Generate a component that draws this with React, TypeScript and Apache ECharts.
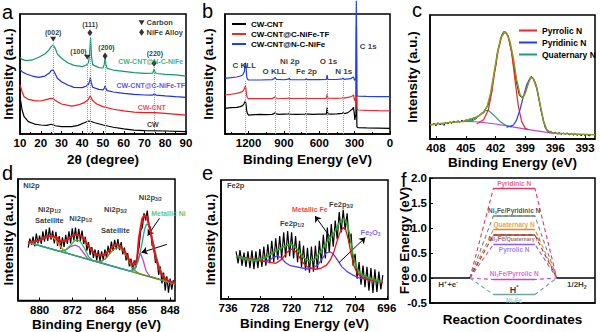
import React, { useEffect, useRef } from "react";
import * as echarts from "echarts";

const FONT = '"Liberation Sans", Arial, Helvetica, sans-serif';

// ---------------- panel a : XRD ----------------
const aCW = [[10,31.1],[11,20],[12,14.4],[14,10.3],[17,8.3],[20,7.5],[23,7.2],[25,8.1],[27,6.9],[30,6.1],[35,6.1],[38,7.2],[41,9.4],[43,10.8],[44,10.6],[46,9.4],[50,7.5],[55,5.6],[60,4.2],[65,3.3],[70,2.8],[80,2.5],[90,1.9]];
const aCNT = [[10,40.8],[11,35.3],[12,31.1],[14,28.9],[17,27.8],[20,27.5],[23,28.9],[25,29.7],[26,29.4],[28,26.9],[30,25],[35,23.3],[38,24.2],[41,26.1],[43,28.9],[43.8,31.7],[45,27.8],[47,25],[50,22.8],[55,20.6],[60,19.2],[65,18.3],[70,17.8],[75,17.8],[80,17.2],[90,15.8]];
const aTF = [[10,53.9],[11,51.9],[13,50],[16,48.3],[19,47.2],[22,48.3],[24,50.6],[25,52.8],[26,53.3],[27,50],[28,46.4],[30,43.6],[33,40.8],[36,38.9],[40,38.6],[42,40],[43,41.5],[43.6,44],[43.9,46.9],[44.3,43],[45,39],[48,37.2],[50,36.7],[50.6,38],[51,40],[51.4,38],[52,36.1],[55,35],[60,33.9],[65,33.1],[70,32.5],[74,32.4],[74.8,33.6],[75.5,32.4],[80,31.7],[85,31.1],[90,30.6]];
const aNC = [[10,63.9],[11,62.2],[13,61.1],[16,61.7],[19,63.9],[22,66.7],[24,70],[25,72.8],[26,74.2],[27,71.4],[28,66.7],[30,63.1],[33,59.4],[36,57.2],[40,56.1],[42,57.5],[43,59.5],[43.5,66],[44,80.6],[44.5,64],[45,57.8],[48,55.3],[50,55],[50.6,58],[51,63],[51.4,58],[52,54.7],[55,53.3],[60,52.2],[65,51.1],[70,50.6],[74,50.8],[74.6,54.2],[75.2,51],[76,50.4],[80,49.7],[85,49.2],[90,48.3]];
const aDropLines = [[26,75.6],[42.4,60],[43.7,81],[51,61.7],[74.6,56]];
const aCarbonMarks = [[26,78.9],[42.4,63.9]];
const aAlloyMarks = [[43.7,84.4],[51,65],[74.6,58.9]];

// ---------------- panel b : XPS survey ----------------
const bCNT = [[1400,21.4],[1350,21.9],[1300,22.2],[1270,22.8],[1250,23.6],[1236,25.6],[1228,27.5],[1222,25.0],[1216,19.5],[1210,17.2],[1200,15.8],[1150,16.1],[1100,16.4],[1050,16.2],[1000,16.4],[985,17.0],[975,17.6],[965,16.8],[940,16.4],[900,16.6],[860,16.8],[855,17.3],[848,16.5],[800,16.4],[720,16.6],[710,17.1],[700,16.5],[650,16.4],[600,16.6],[540,16.6],[533,22.2],[528,16.8],[500,16.6],[450,16.8],[405,17.2],[398,17.8],[390,17.0],[360,17.6],[335,19.5],[320,20.6],[310,22.2],[303,17],[298,11.7],[294,14.5],[289,16],[286,60],[284.5,90],[283,30],[281,5.8],[270,5.3],[200,5.1],[100,4.9],[0,4.7]];
const bTF = [[1400,32.5],[1350,33.1],[1300,33.9],[1270,34.7],[1250,35.6],[1236,37.5],[1228,40.0],[1222,37.5],[1216,31.9],[1210,30.3],[1200,29.4],[1100,29.6],[1000,29.5],[985,30.3],[975,31.0],[965,29.8],[900,29.6],[860,29.9],[855,30.6],[848,29.7],[720,29.6],[710,30.2],[700,29.6],[600,29.6],[540,29.7],[533,33.1],[528,29.8],[450,29.7],[405,30.0],[398,30.6],[390,29.9],[335,31.0],[320,31.7],[310,32.5],[303,29.5],[298,27.5],[294,29.5],[289,31.0],[286,70],[284.5,100],[283,40],[281,20.6],[270,20.0],[200,19.7],[100,19.4],[0,19.2]];
const bNC = [[1400,46.4],[1350,46.9],[1300,47.5],[1270,48.3],[1250,49.2],[1236,52.0],[1228,59.4],[1222,57.0],[1216,48.0],[1210,45.8],[1200,45.0],[1100,45.0],[1000,45.3],[985,46.0],[975,47.2],[965,45.6],[900,45.2],[860,45.8],[855,46.6],[848,45.3],[720,45.2],[710,46.0],[700,45.3],[600,45.3],[540,45.4],[533,49.2],[528,45.5],[450,45.4],[405,45.9],[398,46.6],[390,45.6],[335,46.1],[320,47.0],[310,47.5],[303,45.5],[298,44.5],[294,45.8],[289,46.5],[286,111],[284.5,111],[283,111],[282,31.9],[270,31.6],[200,31.4],[100,31.2],[0,31.1]];
const bPeakLines = [[1225,44],[975,44],[855,44],[710,44],[531,44],[400,44]];

// ---------------- panel c : N 1s ----------------
const cRaw = [[408.4,11.0],[408.2,12.8],[408.0,10.6],[407.8,13.2],[407.6,11.4],[407.4,12.6],[407.2,10.9],[407.0,13.5],[406.8,12.1],[406.6,14.0],[406.4,12.5],[406.2,14.6],[406.0,13.0],[405.8,14.9],[405.6,13.4],[405.4,15.2],[405.2,13.8],[405.0,15.6],[404.8,14.4],[404.6,16.3],[404.4,15.1],[404.2,17.2],[404.0,16.0],[403.8,18.4],[403.6,18.9],[403.4,20.8],[403.2,21.0],[403.0,24.5],[402.8,26.0],[402.6,32.5],[402.4,38.0],[402.2,50.5],[402.0,58.0],[401.8,70.5],[401.6,77.0],[401.4,83.5],[401.2,86.5],[401.0,86.0],[400.8,84.5],[400.6,78.0],[400.4,70.5],[400.2,60.0],[400.0,49.5],[399.8,42.0],[399.6,35.0],[399.4,33.5],[399.2,34.5],[399.0,38.0],[398.8,43.0],[398.6,48.0],[398.4,50.5],[398.2,48.5],[398.0,45.5],[397.8,39.5],[397.6,30.5],[397.4,22.0],[397.2,15.5],[397.0,9.0],[396.8,7.0],[396.6,5.5],[396.4,6.0],[396.2,4.2],[396.0,5.6],[395.8,4.0],[395.6,5.2],[395.4,3.6],[395.2,4.9],[395.0,3.8],[394.8,5.0],[394.6,3.2],[394.4,4.6],[394.2,3.0],[394.0,4.4],[393.8,2.8],[393.6,4.1],[393.4,2.5],[393.2,3.9],[393.0,2.7],[392.8,3.8],[392.6,2.4],[392.4,3.5]];
const cFit = [[408.6,11.5],[406.6,13.4],[405.25,14.2],[403.9,17.7],[403.23,21.4],[402.83,26.8],[402.5,37],[402.16,53.1],[401.83,69.2],[401.49,81.2],[401.16,86.3],[400.89,85.3],[400.55,78.6],[400.21,65.1],[399.88,47.7],[399.54,35.7],[399.28,33],[399.01,37],[398.7,45],[398.44,49.9],[398.2,48.8],[397.87,41.8],[397.53,28.4],[397.19,15],[396.86,7.5],[396.36,4.8],[394.85,4.3],[392,3.5]];
const cPyrrolic = [[403.9,12.3],[403.2,15.5],[402.73,23.6],[402.4,37],[402.06,55.8],[401.72,71.8],[401.39,82.6],[401.05,86.6],[400.72,82.6],[400.38,69.2],[400.05,47.7],[399.71,26.3],[399.38,14.2],[399.04,8.8],[398.7,7.5]];
const cPyridinic = [[400.9,9.6],[400.55,10.2],[400.2,11.3],[399.9,15],[399.55,23.6],[399.2,34.3],[398.87,43.7],[398.47,49.9],[398.2,48.3],[397.87,41],[397.53,27.6],[397.19,14.2],[396.86,7],[396.52,4.8]];
const cQuaternary = [[405.1,14.2],[404.24,15],[403.57,19.6],[403.07,22.8],[402.73,23.1],[402.23,19.6],[401.56,14.2],[400.9,10.7],[400.38,9.7]];
const cBackground = [[405.3,14.2],[404,13.9],[403,13.1],[402,12.1],[401,10.8],[400,9.4],[399,8.0],[398,6.7],[397,5.6],[396,4.6],[395.5,4.2]];
const cTicks = [393,396,399,402,405,408];

// ---------------- panel d : Ni 2p ----------------
const dRaw = [[882.8,43.5],[882.4,51.0],[882.0,46.0],[881.6,52.5],[881.2,44.5],[880.8,55.0],[880.4,47.0],[880.0,53.5],[879.6,46.5],[879.2,57.0],[878.8,48.5],[878.4,58.5],[878.0,49.0],[877.6,60.0],[877.2,50.0],[876.8,57.5],[876.4,47.0],[876.0,56.5],[875.6,45.0],[875.2,53.0],[874.8,42.5],[874.4,52.0],[874.0,44.0],[873.6,54.0],[873.2,46.5],[872.8,57.0],[872.4,47.0],[872.0,59.5],[871.6,49.5],[871.2,60.0],[870.8,48.5],[870.4,59.0],[870.0,49.0],[869.6,57.5],[869.2,46.5],[868.8,52.5],[868.4,41.0],[868.0,48.0],[867.6,37.5],[867.2,44.0],[866.8,35.0],[866.4,42.0],[866.0,33.0],[865.6,41.5],[865.2,32.5],[864.8,40.5],[864.4,33.5],[864.0,42.0],[863.6,35.0],[863.2,45.0],[862.8,38.5],[862.4,48.5],[862.0,41.0],[861.6,50.0],[861.2,42.0],[860.8,50.5],[860.4,41.5],[860.0,48.0],[859.6,38.0],[859.2,43.5],[858.8,33.0],[858.4,39.0],[858.0,28.0],[857.6,34.5],[857.2,25.0],[856.8,33.0],[856.4,27.0],[856.0,38.0],[855.6,44.0],[855.2,58.0],[854.8,60.0],[854.4,72.0],[854.0,66.0],[853.6,74.0],[853.2,62.0],[852.8,60.0],[852.4,45.0],[852.0,46.0],[851.6,31.0],[851.2,34.0],[850.8,21.0],[850.4,28.0],[850.0,14.0],[849.6,23.0],[849.2,8.0],[848.8,20.0],[848.4,6.5],[848.0,18.0],[847.6,9.0],[847.2,17.0]];
const dFit = [[882.84,47.9],[881.22,48.5],[879.6,50.1],[878.38,52.1],[877.16,53.4],[875.94,52.1],[874.73,48.5],[873.52,49.3],[872.3,52.6],[871.09,54.2],[869.87,53.4],[869.06,50.7],[867.84,43.8],[866.63,39.2],[865.41,37],[864.2,37.5],[862.98,41.1],[861.77,45.2],[860.96,46.3],[860.15,44.7],[858.93,39.2],[857.71,31.5],[856.9,29.3],[856.09,34.2],[855.68,50.7],[854.87,67.1],[854.3,70.4],[853.66,68.5],[852.85,57.5],[852.04,42.5],[851.23,31.5],[850.42,23.8],[849.2,17.8],[847.99,15.6],[846.78,14.5]];
const dOrange = [[882.84,47.9],[881.5,48.2],[880,49.4],[878.8,51.8],[877.6,53.1],[876.5,51.6],[875.3,46.5],[874.2,41.5],[873,38.6],[846.78,13.7]];
const dNiO = [[882.84,47.9],[875,40.5],[873.5,41.8],[872.3,44.5],[871.3,45.6],[870.3,44.2],[869.3,39.5],[868.2,34.5],[867,32.9],[857.5,23.9],[856.6,26],[856,31],[855.3,39.2],[854.6,33],[853.9,24.5],[853,19.8],[846.78,13.7]];
const dMetal12 = [[882.84,47.9],[875,40.5],[873.6,41.5],[872.5,45],[871.5,49],[870.8,50],[870,48.5],[869,43],[868,36],[867,32.9],[846.78,13.7]];
const dSat32 = [[882.84,47.9],[867,32.9],[865,32],[863.8,34.5],[862.6,39.5],[861.5,43],[860.5,43.6],[859.5,41],[858.5,35],[857.5,28],[856.5,24.3],[855.5,22],[846.78,13.7]];
const dMetal32 = [[882.84,47.9],[858,24.3],[856.8,26],[855.8,33],[855,45],[854.3,58],[853.8,63],[853.3,62],[852.6,55],[851.9,44],[851.1,33],[850.3,24.5],[849.3,18.5],[848.3,15.5],[846.78,13.7]];
const dTicks = [848,856,864,872,880];

// ---------------- panel e : Fe 2p ----------------
const eRaw = [[734.0,40],[733.5,30],[733.0,41],[732.5,28],[732.0,39],[731.5,27],[731.0,40],[730.5,26],[730.0,41],[729.5,25],[729.0,40],[728.5,26],[728.0,42],[727.5,27],[727.0,44],[726.5,28],[726.0,46],[725.5,30],[725.0,49],[724.5,31],[724.0,51],[723.5,33],[723.0,53],[722.5,34],[722.0,56],[721.5,35],[721.0,57],[720.5,36],[720.0,56],[719.5,34],[719.0,53],[718.5,31],[718.0,49],[717.5,27],[717.0,45],[716.5,24],[716.0,43],[715.5,22],[715.0,44],[714.5,23],[714.0,45],[713.5,25],[713.0,49],[712.5,30],[712.0,54],[711.5,34],[711.0,60],[710.5,39],[710.0,63],[709.5,44],[709.0,66],[708.5,50],[708.0,73],[707.5,56],[707.0,75],[706.5,58],[706.0,72],[705.5,47],[705.0,55],[704.5,28],[704.0,38],[703.5,17],[703.0,31],[702.5,12],[702.0,28],[701.5,10],[701.0,27],[700.5,7],[700.0,26],[699.5,5],[699.0,25],[698.5,6],[698.0,23],[697.5,8],[697.0,20]];
const eFit = [[733.94,36.3],[731.46,33.5],[728.99,32.1],[726.52,34.9],[724.04,40.5],[721.57,44.7],[720.08,46.1],[718.68,41.9],[717.03,34.9],[715.79,32.1],[714.14,33.5],[712.49,40.5],[710.85,48.9],[709.2,55.9],[707.96,64.2],[707.13,67],[706.31,66.5],[705.48,55.9],[704.66,39.1],[703.84,27.9],[702.6,20.9],[700.95,18.2],[699.3,16.2],[697.24,14.2]];
const eMetalFe = [[733.94,35.8],[724,30],[722.4,33.5],[721.2,39],[720.1,42],[719,40],[718,35],[717,30],[715.8,26.5],[714,25],[712.5,26],[711.2,28.5],[710.2,33],[709.4,39],[708.6,48],[707.8,56],[707,60],[706.4,58.5],[705.7,50],[705,38],[704.3,28],[703.5,22],[702.5,18.5],[701,16.6],[699,15.3],[696.99,14]];
const eFe2O3 = [[733.94,35.8],[727,31.7],[725.5,33],[724.5,35],[723.6,36.3],[722.6,34.5],[721.5,30.5],[720.3,28],[716,25.2],[714.5,26],[713.3,29],[712.3,34],[711.3,38.5],[710.4,39.7],[709.5,38],[708.5,33],[707.3,27],[706,23],[704.5,20],[703,17.8],[696.99,14]];
const eTicks = [696,704,712,720,728,736];

// ---------------- panel f : free energy ----------------
const fNames = ["Pyridinic N", "Ni{sub|3}Fe/Pyridinic N", "Quaternary N", "Ni{sub|3}Fe/{q|Quaternary N}", "Pyrrolic N", "Ni{sub|3}Fe/Pyrrolic N", "Ni{sub|3}Fe"];
const fLevels = [1.79, 1.24, 0.97, 0.86, 0.67, -0.03, -0.33];
const fColors = ["#e8365e", "#6b8a80", "#e8832a", "#9a3b2a", "#8d5cf0", "#d43fd4", "#6aa89c"];
const fLabelY = [1.89, 1.35, 1.07, 0.79, 0.57, 0.09, -0.44];
const fTextColors = ["#e8365e", "#222222", "#e8832a", "#9a3b2a", "#8d5cf0", "#d43fd4", "#8fc4bb"];

const TITLE = { fontSize: 13.5, fontWeight: "bold", fontFamily: FONT, color: "#000" };
const TICKLBL = { fontSize: 11.5, fontWeight: "bold", fontFamily: FONT, color: "#000" };

function richFor(s: number) {
  return {
    sub: { fontSize: s * 0.65, fontWeight: "bold", fontFamily: FONT, verticalAlign: "bottom", lineHeight: s * 0.7 },
    sup: { fontSize: s * 0.65, fontWeight: "bold", fontFamily: FONT, verticalAlign: "top", lineHeight: s * 0.7 },
    q: { fontSize: s * 0.8, fontWeight: "bold", fontFamily: FONT },
  };
}

type Ann = { t: string; x: number; y: number; c?: string; s?: number; al?: string };

function textSeries(gi: number, anns: Ann[], size: number) {
  return {
    type: "scatter", xAxisIndex: gi, yAxisIndex: gi, symbolSize: 1, silent: true, z: 20,
    itemStyle: { color: "rgba(0,0,0,0)" },
    data: anns.map((a) => {
      const s = a.s || size;
      return {
        value: [a.x, a.y],
        label: {
          show: true, position: "inside", formatter: a.t, color: a.c || "#000",
          fontSize: s, fontWeight: "bold", fontFamily: FONT, align: a.al || "center",
          verticalAlign: "middle", lineHeight: s * 1.2, rich: richFor(s),
        },
      };
    }),
  };
}

function lineS(name: string, gi: number, data: number[][], color: string, width = 1, z = 2, extra: any = {}) {
  return {
    type: "line", name, xAxisIndex: gi, yAxisIndex: gi, data, symbol: "none", showSymbol: false,
    color, lineStyle: { color, width }, itemStyle: { color }, z, silent: true, ...extra,
  };
}

function segSeries(gi: number, segs: number[][][], color: string, type: any, width: number, arrow = false) {
  return {
    type: "line", xAxisIndex: gi, yAxisIndex: gi, data: [segs[0][0]], symbol: "none", showSymbol: false,
    lineStyle: { opacity: 0 }, silent: true, z: 15,
    markLine: {
      silent: true, animation: false, symbol: arrow ? ["none", "arrow"] : ["none", "none"], symbolSize: 6,
      label: { show: false }, lineStyle: { color, type, width },
      emphasis: { disabled: true },
      data: segs.map((s) => [{ coord: s[0] }, { coord: s[1] }]),
    },
  };
}

function xAxisFor(gi: number, cfg: any) {
  return {
    gridIndex: gi, type: "value", min: cfg.min, max: cfg.max, inverse: !!cfg.inverse, interval: cfg.interval,
    name: cfg.name, nameLocation: "middle", nameGap: cfg.gap, nameTextStyle: TITLE, nameMoveOverlap: false,
    axisLine: { show: true, onZero: false, lineStyle: { color: "#000", width: 1.5 } },
    axisTick: cfg.noTicks ? { show: false } : { show: true, inside: true, length: 3, lineStyle: { color: "#000", width: 1 }, customValues: cfg.custom },
    minorTick: { show: !!cfg.minor, splitNumber: 2, length: 2, lineStyle: { color: "#000" } },
    axisLabel: cfg.noTicks ? { show: false } : { ...TICKLBL, margin: 3, customValues: cfg.custom, formatter: (v: number) => String(v) },
    splitLine: { show: false },
  };
}

function yIntensity(gi: number, gap: number) {
  return {
    gridIndex: gi, type: "value", min: 0, max: 100, name: "Intensity (a.u.)", nameLocation: "middle",
    nameGap: gap, nameRotate: 90, nameTextStyle: TITLE, nameMoveOverlap: false,
    axisLine: { show: true, onZero: false, lineStyle: { color: "#000", width: 1.5 } },
    axisTick: { show: false }, axisLabel: { show: false }, splitLine: { show: false },
  };
}

function buildOption() {
  const gridBase = { show: true, borderColor: "#000", borderWidth: 1.5, containLabel: false };
  const grids = [
    { left: 20, top: 14, width: 166, height: 120 },
    { left: 225, top: 14, width: 165, height: 120 },
    { left: 430, top: 15, width: 165, height: 124 },
    { left: 17, top: 179, width: 158, height: 122 },
    { left: 221, top: 180, width: 167, height: 119 },
    { left: 430, top: 178, width: 165, height: 125 },
  ].map((g) => ({ ...gridBase, ...g }));

  const xAxes = [
    xAxisFor(0, { min: 10, max: 90, interval: 10, name: "2θ (degree)", gap: 18, minor: true }),
    xAxisFor(1, { min: 0, max: 1400, interval: 300, inverse: true, name: "Binding Energy (eV)", gap: 18, minor: true }),
    xAxisFor(2, { min: 392, max: 408.6, inverse: true, custom: cTicks, name: "Binding Energy (eV)", gap: 16.5 }),
    xAxisFor(3, { min: 846.8, max: 885.3, inverse: true, custom: dTicks, name: "Binding Energy (eV)", gap: 16.5 }),
    xAxisFor(4, { min: 695.7, max: 737.8, inverse: true, custom: eTicks, name: "Binding Energy (eV)", gap: 17 }),
    xAxisFor(5, { min: 0, max: 10, noTicks: true, name: "Reaction Coordinates", gap: 9 }),
  ];
  const yAxes: any[] = [
    yIntensity(0, 5), yIntensity(1, 10), yIntensity(2, 11), yIntensity(3, 3), yIntensity(4, 4),
    {
      gridIndex: 5, type: "value", min: -0.5, max: 2.0, interval: 0.5, name: "Free Energy (eV)",
      nameLocation: "middle", nameGap: 19, nameRotate: 90, nameTextStyle: TITLE, nameMoveOverlap: false,
      axisLine: { show: true, onZero: false, lineStyle: { color: "#000", width: 1.5 } },
      axisTick: { show: true, inside: true, length: 3, lineStyle: { color: "#000" } },
      axisLabel: { ...TICKLBL, margin: 3, formatter: (v: number) => v.toFixed(1) },
      splitLine: { show: false },
    },
  ];

  const series: any[] = [];
  // ---- a
  series.push(segSeries(0, aDropLines.map((p) => [[p[0], 0], [p[0], p[1]]]), "#9a9a9a", "dotted", 1));
  series.push(lineS("a CW", 0, aCW, "#000000", 1.2, 3));
  series.push(lineS("a CW-CNT", 0, aCNT, "#f01818", 1.2, 3));
  series.push(lineS("a TF", 0, aTF, "#1f2de8", 1.2, 3));
  series.push(lineS("a NC", 0, aNC, "#15996b", 1.2, 3));
  series.push({
    type: "scatter", xAxisIndex: 0, yAxisIndex: 0, symbol: "triangle", symbolRotate: 180, symbolSize: [6, 5],
    itemStyle: { color: "#000" }, data: [...aCarbonMarks, [68.6, 92.8]], silent: true, z: 12,
  });
  series.push({
    type: "scatter", xAxisIndex: 0, yAxisIndex: 0, symbol: "diamond", symbolSize: [5, 7],
    itemStyle: { color: "#000" }, data: [...aAlloyMarks, [68.6, 84.7]], silent: true, z: 12,
  });
  series.push(textSeries(0, [
    { t: "(002)", x: 26, y: 85 }, { t: "(111)", x: 43.7, y: 91.3 }, { t: "(100)", x: 38.2, y: 68.6 },
    { t: "(200)", x: 51.7, y: 72.4 }, { t: "(220)", x: 75, y: 67.4 },
    { t: "Carbon", x: 71, y: 92.8, al: "left", s: 7.5 }, { t: "NiFe Alloy", x: 71, y: 84.7, al: "left", s: 7.5 },
    { t: "CW-CNT@N-C-NiFe", x: 73, y: 60.3, c: "#15996b" }, { t: "CW-CNT@C-NiFe-TF", x: 73, y: 40.2, c: "#1f2de8" },
    { t: "CW-CNT", x: 73.5, y: 22.2, c: "#f01818" }, { t: "CW", x: 74, y: 7.8 },
  ], 7));

  // ---- b
  series.push(segSeries(1, bPeakLines.map((p) => [[p[0], 0], [p[0], p[1]]]), "#9a9a9a", "dotted", 1));
  series.push(lineS("CW-CNT", 1, bCNT, "#000000", 1.2, 3));
  series.push(lineS("CW-CNT@C-NiFe-TF", 1, bTF, "#ec2a2e", 1.2, 4));
  series.push(lineS("CW-CNT@N-C-NiFe", 1, bNC, "#1f3ff0", 1.2, 5, { clip: false }));
  series.push(textSeries(1, [
    { t: "C KLL", x: 1236, y: 57.5 }, { t: "O KLL", x: 980, y: 52 }, { t: "Ni 2p", x: 850, y: 60.3 },
    { t: "Fe 2p", x: 708, y: 52 }, { t: "O 1s", x: 522, y: 60.3 }, { t: "N 1s", x: 393, y: 52 },
    { t: "C 1s", x: 185, y: 72.8 },
  ], 8));

  // ---- c
  series.push(lineS("c raw", 2, cRaw, "#111111", 1, 2));
  series.push(lineS("c bg", 2, cBackground, "#c23fe0", 1.2, 3));
  series.push(lineS("Quaternary N", 2, cQuaternary, "#1c9e72", 1.2, 4));
  series.push(lineS("Pyrrolic N", 2, cPyrrolic, "#f0242a", 1.2, 4));
  series.push(lineS("Pyridinic N", 2, cPyridinic, "#2140f0", 1.2, 4));
  series.push(lineS("c fit", 2, cFit, "#8a9a20", 1.5, 5));

  // ---- d
  series.push(lineS("d raw", 3, dRaw, "#000000", 1.2, 2));
  series.push(lineS("d bg", 3, dOrange, "#f07d1e", 1.4, 3));
  series.push(lineS("d NiO", 3, dNiO, "#b444e4", 1.3, 4));
  series.push(lineS("d Ni12", 3, dMetal12, "#3cb83c", 1.3, 4));
  series.push(lineS("d sat32", 3, dSat32, "#6b8e23", 1.3, 4));
  series.push(lineS("d Ni32", 3, dMetal32, "#1aa89a", 1.3, 4));
  series.push(lineS("d fit", 3, dFit, "#f01010", 2, 6));
  series.push(segSeries(3, [[[850.6, 67.7], [853.5, 53.4]], [[848.8, 46.2], [855, 39.5]]], "#000", "solid", 1, true));
  series.push(textSeries(3, [
    { t: "Ni2p", x: 884, y: 94.5, al: "left" },
    { t: "Ni2p{sub|1/2}", x: 877.6, y: 75.3 }, { t: "Satellite", x: 877.6, y: 65.8 },
    { t: "Ni2p{sub|1/2}", x: 869.9, y: 67.1 },
    { t: "Ni2p{sub|3/2}", x: 861.4, y: 75.3 }, { t: "Satellite", x: 861.4, y: 57.5 },
    { t: "Ni2p{sub|3/2}", x: 852.85, y: 84.4 },
    { t: "Metallic Ni", x: 848.4, y: 71.2, c: "#3cb83c", s: 7 },
    { t: "NiO", x: 846.6, y: 46.6, c: "#b444e4", s: 7 },
  ], 7.5));

  // ---- e
  series.push(lineS("e raw", 4, eRaw, "#000000", 1.2, 2));
  series.push(lineS("e Fe2O3", 4, eFe2O3, "#5a3cf0", 1.3, 3));
  series.push(lineS("e Fe", 4, eMetalFe, "#f01010", 1.3, 4));
  series.push(lineS("e fit", 4, eFit, "#1fb01f", 1.6, 5));
  series.push(segSeries(4, [[[710.4, 52.5], [714.1, 69.8]], [[708, 30.7], [701.4, 51.7]]], "#000", "solid", 1, true));
  series.push(textSeries(4, [
    { t: "Fe2p", x: 736.3, y: 95, al: "left" },
    { t: "Metallic Fe", x: 715.4, y: 75.4, c: "#f01010", s: 7 },
    { t: "Fe2p{sub|3/2}", x: 707.5, y: 79.6 },
    { t: "Fe2p{sub|1/2}", x: 719.9, y: 63.7 },
    { t: "Fe{sub|2}O{sub|3}", x: 700.1, y: 55.9, c: "#5a3cf0" },
  ], 7.5));

  // ---- f
  const xL0 = 2.42, xL1 = 3.84, xR1 = 6.36, xR0 = 7.68;
  series.push(lineS("f zero left", 5, [[0, 0], [xL0, 0]], "#000", 1.3, 6));
  series.push(lineS("f zero right", 5, [[xR0, 0], [10, 0]], "#000", 1.3, 6));
  fLevels.forEach((L, i) => {
    series.push(lineS("f dash " + i, 5, [[xL0, 0], [xL1, L], [xR1, L], [xR0, 0]], fColors[i], 1.1, 3, { lineStyle: { color: fColors[i], width: 1.1, type: [4, 3] } }));
    series.push(lineS("f level " + i, 5, [[xL1, L], [xR1, L]], fColors[i], 1.5, 5));
  });
  series.push(textSeries(5, [
    ...fNames.map((n, i) => ({ t: n, x: 5.1, y: fLabelY[i], c: fTextColors[i] })),
    { t: "H{sup|+}+e{sup|-}", x: 1.1, y: -0.13, s: 8 },
    { t: "1/2H{sub|2}", x: 8.9, y: -0.13, s: 8 },
    { t: "H{sup|*}", x: 5.1, y: -0.23, s: 9 },
  ], 6.5));

  const letter = (t: string, x: number, y: number) => ({
    type: "text", x, y, silent: true,
    style: { text: t, fontSize: 20, fontFamily: FONT, fill: "#000", verticalAlign: "middle", align: "left" },
  });

  return {
    animation: false,
    backgroundColor: "#fff",
    grid: grids,
    xAxis: xAxes,
    yAxis: yAxes,
    legend: [
      {
        data: ["CW-CNT", "CW-CNT@C-NiFe-TF", "CW-CNT@N-C-NiFe"], orient: "vertical", left: 227, top: 15,
        itemWidth: 14, itemHeight: 2, icon: "rect", itemGap: 2, selectedMode: false,
        textStyle: { fontSize: 8, fontWeight: "bold", fontFamily: FONT, color: "#000" },
      },
      {
        data: ["Pyrrolic N", "Pyridinic N", "Quaternary N"], orient: "vertical", left: 514, top: 21,
        itemWidth: 18, itemHeight: 2, icon: "rect", itemGap: 3, selectedMode: false,
        textStyle: { fontSize: 8.5, fontWeight: "bold", fontFamily: FONT, color: "#000" },
      },
    ],
    graphic: [
      letter("a", 2, 12), letter("b", 202, 11), letter("c", 412, 10),
      letter("d", 2, 173), letter("e", 202, 173), letter("f", 401, 180),
    ],
    series,
  };
}

export default function App() {
  const ref = useRef<HTMLDivElement>(null);
  useEffect(() => {
    const chart = echarts.init(ref.current as HTMLDivElement, null, { renderer: "svg" });
    chart.setOption(buildOption() as any);
    return () => chart.dispose();
  }, []);
  return (
    <div
      ref={ref}
      style={{ position: "fixed", left: 0, top: 0, width: 600, height: 332, background: "#fff" }}
    />
  );
}
